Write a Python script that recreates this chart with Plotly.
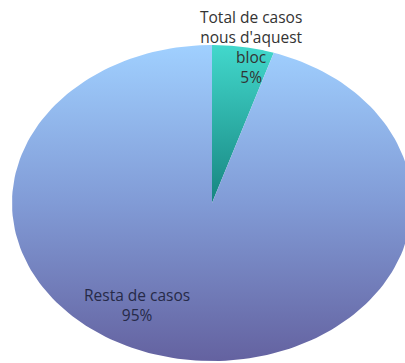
import numpy as np
import plotly.graph_objects as go

# Share of cases
labels = ["Total de casos<br>nous d'aquest<br>bloc", "Resta de casos"]
values = [5, 95]

# Layout of the (elliptical) pie in pixel units
W, H = 405, 363
CX, CY = 212, 203
RX, RY = 200, 158

fills = [
    dict(type="vertical", start=CY - RY, stop=CY,
         colorscale=[[0, "#42d8cc"], [1, "#178580"]]),
    dict(type="vertical", start=CY - RY, stop=CY + RY,
         colorscale=[[0, "#a0d0ff"], [0.5, "#819bd6"], [1, "#6462a0"]]),
]

fig = go.Figure()
total = sum(values)
start = 0.0
for lab, val, fg in zip(labels, values, fills):
    frac = val / total
    ang = np.linspace(start, start + frac, 200) * 2 * np.pi
    xs = np.concatenate([[CX], CX + RX * np.sin(ang), [CX]])
    ys = np.concatenate([[CY], CY - RY * np.cos(ang), [CY]])
    fig.add_trace(go.Scatter(x=xs, y=ys, mode="lines", fill="toself",
                             fillgradient=fg, line=dict(width=0),
                             hoverinfo="skip", showlegend=False))
    start += frac

pct = [f"{round(v / total * 100)}%" for v in values]
fig.add_annotation(x=251, y=47, text=f"{labels[0]}<br>{pct[0]}",
                   showarrow=False, font=dict(family="Open Sans", size=15.5, color="#333333"))
fig.add_annotation(x=137, y=305, text=f"{labels[1]}<br>{pct[1]}",
                   showarrow=False, font=dict(family="Open Sans", size=15.5, color="#262a48"))

fig.update_layout(
    width=W, height=H, margin=dict(l=0, r=0, t=0, b=0),
    paper_bgcolor="white", plot_bgcolor="white",
    xaxis=dict(range=[0, W], visible=False, fixedrange=True),
    yaxis=dict(range=[H, 0], visible=False, fixedrange=True),
)
fig.write_html("out.html")
